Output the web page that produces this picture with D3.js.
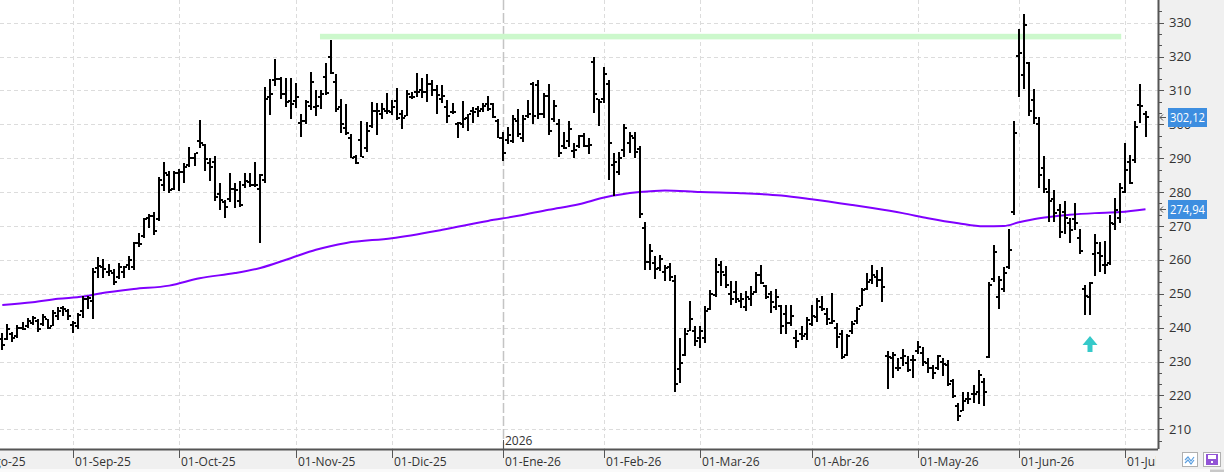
<!DOCTYPE html>
<html>
<head>
<meta charset="utf-8">
<script src="https://cdn.jsdelivr.net/npm/d3@7"></script>
<style>
  body { margin: 0; background: #fff; }
  svg { display: block; font-family: "Open Sans", sans-serif; }
</style>
</head>
<body>
<script>

// data

const holidays = ["2025-09-01", "2025-11-27", "2025-12-25", "2026-01-01", "2026-01-19",
                  "2026-02-16", "2026-04-03", "2026-05-25", "2026-06-19", "2026-07-03"];
const firstDay = "2025-08-01";
const lastDay = "2026-07-08";
const dataStart = "2025-08-12";

const opens = [
  236.7, 236.6, 238.0, 237.5, 240.0, 240.5, 241.5, 242.0, 241.0, 242.5,
  240.5, 243.5, 245.8, 245.0, 240.8, 240.5, 245.0, 248.5, 248.0, 257.5,
  258.0, 256.5, 256.0, 255.0, 256.5, 258.5, 258.0, 265.0, 267.0, 272.5,
  273.0, 272.0, 282.0, 285.0, 281.0, 285.5, 286.0, 288.0, 290.0, 295.0,
  294.0, 288.5, 289.0, 279.5, 277.0, 278.0, 281.0, 277.5, 282.0, 283.0,
  282.0, 281.0, 283.5, 308.0, 313.0, 313.5, 309.0, 307.0, 307.0, 300.5,
  301.0, 305.5, 305.0, 308.0, 314.0, 320.0, 312.5, 305.0, 299.0, 296.0,
  290.5, 295.5, 293.0, 299.5, 304.0, 303.0, 304.0, 303.5, 307.0, 303.0,
  302.5, 308.0, 309.5, 310.0, 309.5, 312.0, 310.0, 307.5, 305.0, 303.5,
  300.0, 300.0, 302.0, 304.0, 304.5, 304.5, 306.0, 306.0, 301.0, 296.0,
  295.5, 295.0, 301.0, 296.0, 302.5, 312.0, 311.5, 303.0, 308.5, 301.5,
  300.0, 293.5, 295.0, 292.0, 293.5, 296.6, 293.7, 318.5, 307.5, 307.5,
  312.0, 288.0, 286.0, 292.5, 294.5, 296.0, 292.8, 269.5, 259.5, 259.0,
  257.5, 256.5, 258.0, 253.7, 227.9, 232.0, 239.0, 239.0, 237.0, 237.0,
  245.5, 249.5, 258.5, 255.5, 250.0, 250.5, 248.0, 246.0, 248.5, 250.5,
  255.5, 252.2, 250.0, 246.0, 246.5, 244.0, 241.5, 237.0, 238.0, 238.0,
  241.0, 243.0, 246.0, 244.0, 241.5, 240.0, 238.0, 232.0, 239.0, 242.0,
  246.5, 251.5, 254.0, 255.0, 254.0, 231.5, 231.0, 228.0, 231.0, 229.5,
  230.5, 233.0, 232.5, 229.5, 228.0, 228.0, 230.0, 229.0, 224.2, 217.0,
  215.5, 219.0, 220.5, 221.0, 224.0, 231.4, 254.5, 249.0, 251.5, 258.0,
  274.0, 320.2, 314.7, 318.0, 307.3, 300.1, 287.0, 280.0, 278.0, 274.7,
  274.0, 271.0, 272.0, 266.4, 251.4, 249.0, 261.7, 262.0, 258.6, 259.0,
  270.5, 272.4, 280.0, 288.8, 289.4, 305.7, 303.0
];

const highs = [
  238.3, 241.2, 238.7, 240.9, 241.7, 242.9, 243.4, 242.7, 243.9, 242.7,
  245.3, 246.1, 246.3, 245.5, 241.9, 244.3, 249.4, 249.2, 257.6, 260.8,
  260.2, 258.8, 257.3, 259.1, 258.1, 261.2, 265.4, 267.9, 272.5, 273.6,
  274.0, 284.6, 288.8, 286.2, 286.3, 286.7, 288.5, 293.2, 291.6, 301.3,
  294.2, 290.2, 290.7, 282.6, 277.7, 285.5, 282.6, 283.4, 285.5, 285.5,
  289.0, 285.3, 311.1, 313.5, 319.4, 314.0, 313.8, 313.8, 312.2, 303.2,
  307.3, 315.5, 310.1, 310.1, 318.1, 325.0, 315.0, 307.6, 306.0, 297.1,
  291.1, 301.1, 300.8, 306.7, 306.4, 306.4, 309.3, 307.1, 310.6, 304.2,
  310.2, 309.6, 315.3, 313.8, 315.0, 313.2, 311.5, 311.6, 307.3, 306.2,
  300.8, 306.9, 303.2, 305.0, 305.5, 306.2, 308.3, 306.2, 301.7, 297.8,
  299.3, 302.7, 304.4, 302.7, 307.1, 312.5, 313.0, 309.3, 311.8, 307.3,
  301.7, 297.6, 300.9, 294.4, 296.8, 297.3, 295.9, 319.9, 307.6, 316.8,
  313.0, 291.4, 291.9, 300.1, 297.8, 297.6, 293.6, 271.3, 264.8, 261.0,
  261.3, 258.6, 259.1, 255.4, 236.8, 239.9, 247.8, 240.4, 240.4, 246.3,
  251.2, 260.7, 259.6, 258.1, 253.7, 253.7, 250.2, 250.7, 252.4, 256.4,
  258.6, 252.5, 250.7, 251.4, 246.8, 246.6, 246.8, 239.4, 240.4, 243.0,
  246.6, 248.8, 249.2, 245.8, 250.2, 241.4, 239.4, 238.2, 241.9, 246.1,
  251.7, 256.0, 258.6, 257.1, 257.9, 233.0, 232.8, 230.9, 233.7, 231.6,
  231.8, 236.0, 234.3, 231.1, 229.1, 231.9, 231.1, 230.6, 224.7, 217.8,
  221.0, 220.9, 223.2, 227.6, 225.2, 253.6, 264.4, 255.1, 257.8, 269.2,
  301.0, 328.1, 332.6, 318.3, 310.5, 302.3, 290.6, 283.9, 280.6, 276.4,
  277.4, 272.3, 276.9, 269.2, 252.7, 253.5, 267.7, 265.2, 265.7, 273.3,
  278.2, 282.8, 294.5, 291.0, 301.0, 311.9, 303.9
];

const lows = [
  233.3, 236.3, 235.7, 237.0, 239.4, 239.9, 240.7, 238.7, 240.6, 239.5,
  240.4, 242.2, 243.4, 242.4, 238.5, 239.6, 242.9, 245.5, 242.6, 254.6,
  254.6, 255.1, 252.7, 254.4, 254.6, 257.1, 257.1, 263.7, 266.4, 269.4,
  267.4, 271.4, 280.2, 279.7, 280.5, 280.2, 282.8, 287.5, 287.8, 293.1,
  286.3, 283.3, 277.5, 274.6, 272.5, 277.2, 275.4, 275.5, 281.1, 281.6,
  281.6, 265.1, 282.6, 302.7, 311.4, 307.6, 305.0, 301.6, 304.7, 296.2,
  300.0, 304.2, 302.5, 304.4, 308.6, 314.8, 303.7, 297.5, 296.8, 290.0,
  288.2, 290.4, 291.9, 298.8, 296.8, 301.7, 303.2, 302.7, 301.4, 298.6,
  302.5, 307.5, 308.1, 307.9, 306.7, 308.3, 303.0, 306.4, 300.5, 303.0,
  295.9, 299.0, 298.1, 300.5, 302.2, 303.7, 304.0, 302.0, 295.9, 289.3,
  294.2, 294.6, 296.4, 294.9, 302.0, 300.1, 301.7, 302.0, 296.8, 300.8,
  290.3, 292.6, 293.4, 290.0, 292.9, 293.2, 291.3, 303.4, 299.5, 306.4,
  283.6, 279.0, 285.1, 290.5, 291.5, 290.2, 272.3, 257.1, 257.0, 254.4,
  256.6, 253.7, 253.9, 221.0, 223.7, 231.6, 238.9, 234.5, 234.0, 235.5,
  245.3, 249.0, 252.2, 251.6, 246.6, 247.3, 245.8, 244.8, 246.3, 250.2,
  252.9, 248.5, 244.3, 245.1, 238.2, 238.2, 240.4, 234.0, 236.5, 236.3,
  240.4, 241.6, 244.8, 240.9, 241.2, 234.0, 230.8, 231.7, 238.0, 241.2,
  246.3, 251.0, 253.0, 252.0, 247.5, 222.0, 225.2, 227.1, 228.6, 227.0,
  225.2, 232.1, 228.6, 226.7, 224.7, 227.4, 225.7, 222.7, 219.3, 212.4,
  215.4, 217.6, 217.8, 217.6, 216.9, 231.1, 253.4, 245.5, 250.4, 257.3,
  273.3, 308.0, 310.3, 302.5, 300.1, 281.1, 279.6, 271.3, 271.3, 266.6,
  267.7, 264.9, 268.7, 261.8, 243.6, 243.8, 255.1, 256.3, 255.9, 258.4,
  268.9, 271.0, 279.6, 282.3, 288.7, 300.5, 296.2
];

const closes = [
  235.0, 239.5, 237.0, 240.0, 239.6, 242.0, 242.8, 239.5, 243.0, 239.8,
  244.2, 244.8, 245.5, 243.3, 241.3, 243.8, 248.5, 248.8, 256.5, 258.2,
  257.3, 256.8, 253.5, 258.0, 258.0, 260.0, 265.0, 264.8, 272.0, 272.9,
  268.6, 283.5, 285.5, 280.5, 285.5, 286.0, 287.5, 290.2, 291.5, 294.5,
  289.8, 287.5, 278.5, 277.8, 275.5, 281.0, 280.5, 276.3, 283.2, 282.0,
  282.0, 285.0, 307.5, 309.0, 313.5, 309.0, 306.5, 306.0, 308.0, 301.0,
  306.5, 312.5, 305.5, 309.0, 309.2, 315.2, 304.5, 300.0, 297.5, 290.2,
  288.5, 290.5, 298.0, 304.0, 304.0, 304.5, 303.8, 305.0, 302.0, 302.0,
  309.0, 308.0, 309.5, 309.6, 312.0, 310.0, 308.7, 308.5, 302.5, 303.5,
  300.5, 301.5, 303.0, 303.5, 304.0, 305.5, 304.5, 302.3, 296.0, 291.5,
  297.0, 301.5, 297.2, 301.7, 303.0, 302.5, 303.0, 308.5, 298.0, 305.5,
  291.5, 293.0, 298.7, 292.5, 296.5, 293.7, 294.0, 309.0, 306.5, 314.8,
  294.5, 289.0, 290.0, 298.8, 296.5, 291.7, 273.5, 259.5, 262.6, 257.4,
  260.4, 257.5, 255.0, 223.5, 229.6, 238.0, 242.5, 236.0, 239.0, 245.0,
  250.0, 256.5, 256.5, 252.5, 248.5, 248.5, 248.5, 249.0, 250.0, 255.5,
  253.2, 249.0, 247.5, 249.0, 240.5, 241.5, 243.5, 236.0, 237.5, 242.2,
  243.5, 247.8, 245.5, 242.5, 242.0, 237.2, 231.2, 237.5, 241.0, 245.5,
  251.0, 253.5, 255.5, 254.0, 252.0, 231.2, 232.0, 228.0, 231.5, 227.5,
  230.5, 234.4, 230.0, 228.0, 226.5, 231.5, 229.3, 223.5, 219.8, 214.0,
  218.3, 218.8, 220.3, 226.0, 221.0, 252.6, 262.3, 254.0, 256.0, 262.8,
  297.5, 321.0, 329.4, 304.0, 301.8, 285.0, 281.0, 277.5, 273.8, 268.2,
  272.3, 268.9, 270.8, 262.5, 249.4, 253.2, 264.9, 261.0, 258.5, 271.0,
  274.6, 281.1, 286.5, 282.6, 299.3, 305.5, 302.12
];

// moving average, read at knots (bar index, value)
const maIndex = [0, 6, 11, 16, 19, 26, 33, 39, 46, 51, 57, 62, 68, 77, 87, 96, 102, 108, 114,
                 119, 126, 131, 138, 146, 154, 160, 168, 172, 178, 183, 189, 194, 198, 201,
                 205, 211, 216, 221, 226];
const maValue = [246.7, 247.5, 248.5, 249.2, 250.0, 251.4, 252.4, 254.6, 256.1, 257.6, 260.5,
                 263.0, 265.0, 266.4, 268.9, 271.5, 273.0, 274.8, 276.4, 278.4, 280.0, 280.5,
                 280.0, 279.7, 279.0, 277.9, 276.2, 275.3, 273.8, 272.3, 270.8, 269.9, 270.0,
                 271.1, 272.3, 273.3, 273.8, 274.1, 274.94];

const monthDates = ["2025-08-01", "2025-09-01", "2025-10-01", "2025-11-01", "2025-12-01", "2026-01-01",
                    "2026-02-01", "2026-03-01", "2026-04-01", "2026-05-01", "2026-06-01", "2026-07-01"];
const monthLabels = ["01-Ago-25", "01-Sep-25", "01-Oct-25", "01-Nov-25", "01-Dic-25", "01-Ene-26",
                     "01-Feb-26", "01-Mar-26", "01-Abr-26", "01-May-26", "01-Jun-26", "01-Jul-26"];
const yearLabel = "2026";
const yearDate = "2026-01-01";

const yTicks = [210, 220, 230, 240, 250, 260, 270, 280, 290, 300, 310, 320, 330];

const lastPrice = 302.12;
const lastMA = 274.94;

const resistanceLevel = 325.9;
const resistanceFrom = "2025-11-10";
const resistanceTo = "2026-06-30";

const signalDate = "2026-06-22";
const signalValue = 237.5;

// dimensions

const dms = {
    width: 1224,
    height: 472,
    plotRight: 1158,
    plotBottom: 449
};

// trading calendar

const fmt = d3.timeFormat("%Y-%m-%d");
const parse = d3.timeParse("%Y-%m-%d");
const tradingDays = d3.timeDay.range(parse(firstDay), d3.timeDay.offset(parse(lastDay), 1))
    .filter(d => d.getDay() % 6 !== 0)
    .map(fmt)
    .filter(s => !holidays.includes(s));
const dates = tradingDays.slice(tradingDays.indexOf(dataStart));

const bars = dates.map((d, i) => ({
    date: d, o: opens[i], h: highs[i], l: lows[i], c: closes[i]
}));

// scales

const xScale = d3.scalePoint()
    .domain(tradingDays)
    .range([-33.1, 1145.5]);

const yScale = d3.scaleLinear()
    .domain([210, 330])
    .range([429.3, 22.7]);

const firstTrading = s => tradingDays[d3.bisectLeft(tradingDays, s)];

// canvas

const svg = d3.select("body")
    .append("svg")
    .attr("width", dms.width)
    .attr("height", dms.height);

svg.append("rect")
    .attr("width", dms.width).attr("height", dms.height)
    .attr("fill", "#fff");

svg.append("rect")
    .attr("x", dms.plotRight).attr("y", 0)
    .attr("width", dms.width - dms.plotRight).attr("height", dms.plotBottom)
    .attr("fill", "#f0f0f0");

svg.append("rect")
    .attr("x", 0).attr("y", dms.plotBottom)
    .attr("width", dms.width).attr("height", dms.height - dms.plotBottom)
    .attr("fill", "#f0f0f0");

svg.append("rect")
    .attr("x", 0).attr("y", 469)
    .attr("width", dms.width).attr("height", 3)
    .attr("fill", "#fafafa");

svg.append("rect")
    .attr("x", 1210).attr("y", 469.5)
    .attr("width", 14).attr("height", 2.5)
    .attr("fill", "#c8c8c8");

svg.append("clipPath").attr("id", "plot")
    .append("rect")
    .attr("width", dms.plotRight).attr("height", dms.plotBottom);

const plot = svg.append("g").attr("clip-path", "url(#plot)");

// grid

plot.selectAll(".hgrid")
    .data(yTicks)
    .enter()
    .append("line")
    .attr("x1", 0).attr("x2", dms.plotRight)
    .attr("y1", d => Math.round(yScale(d)) + 0.5)
    .attr("y2", d => Math.round(yScale(d)) + 0.5)
    .attr("stroke", "#dcdcdc")
    .attr("stroke-dasharray", "4,3");

const monthTicks = monthDates.map((m, i) => ({
    label: monthLabels[i],
    x: Math.round(xScale(firstTrading(m))),
    year: m === yearDate
}));

plot.selectAll(".vgrid")
    .data(monthTicks)
    .enter()
    .append("line")
    .attr("x1", d => d.x + 0.5).attr("x2", d => d.x + 0.5)
    .attr("y1", 0).attr("y2", dms.plotBottom)
    .attr("stroke", d => d.year ? "#c4c4c4" : "#dcdcdc")
    .attr("stroke-width", d => d.year ? 1.5 : 1)
    .attr("stroke-dasharray", d => d.year ? "10,3" : "4,3");

// resistance

plot.append("rect")
    .attr("x", xScale(resistanceFrom) - 1)
    .attr("width", xScale(resistanceTo) - xScale(resistanceFrom) + 2)
    .attr("y", yScale(resistanceLevel) - 2.8)
    .attr("height", 5.6)
    .attr("fill", "#ccf8cc");

// moving average

const maLine = d3.line()
    .x(d => xScale(dates[d[0]]))
    .y(d => yScale(d[1]))
    .curve(d3.curveMonotoneX);

plot.append("path")
    .datum(maIndex.map((d, i) => [d, maValue[i]]))
    .attr("d", maLine)
    .attr("fill", "none")
    .attr("stroke", "#8000ff")
    .attr("stroke-width", 2);

// bars

const g = plot.append("g")
    .attr("stroke", "#000")
    .attr("shape-rendering", "crispEdges");

const bx = d => Math.round(xScale(d.date));

g.selectAll(".hl")
    .data(bars)
    .enter()
    .append("line")
    .attr("x1", bx).attr("x2", bx)
    .attr("y1", d => Math.round(yScale(d.h)))
    .attr("y2", d => Math.round(yScale(d.l)))
    .attr("stroke-width", 2);

g.selectAll(".op")
    .data(bars)
    .enter()
    .append("line")
    .attr("x1", d => bx(d) - 3).attr("x2", d => bx(d) - 1)
    .attr("y1", d => Math.round(yScale(d.o)))
    .attr("y2", d => Math.round(yScale(d.o)))
    .attr("stroke-width", 2);

g.selectAll(".cl")
    .data(bars)
    .enter()
    .append("line")
    .attr("x1", d => bx(d) + 1).attr("x2", d => bx(d) + 3)
    .attr("y1", d => Math.round(yScale(d.c)))
    .attr("y2", d => Math.round(yScale(d.c)))
    .attr("stroke-width", 2);

// signal arrow

const sx = Math.round(xScale(signalDate));
const sy = yScale(signalValue);
plot.append("path")
    .attr("d", `M${sx},${sy} L${sx + 7.5},${sy + 9} L${sx + 2.5},${sy + 9} L${sx + 2.5},${sy + 16}
                L${sx - 2.5},${sy + 16} L${sx - 2.5},${sy + 9} L${sx - 7.5},${sy + 9} Z`)
    .attr("fill", "#35c9c9");

// right axis

const axisColor = "#555";

svg.append("line")
    .attr("x1", dms.plotRight + 0.5).attr("x2", dms.plotRight + 0.5)
    .attr("y1", 0).attr("y2", dms.plotBottom)
    .attr("stroke", axisColor).attr("stroke-width", 2);

const minorTicks = d3.range(0, 39).map(k => 210 - 10 / 3 + k * 10 / 3);

svg.selectAll(".ytick")
    .data(minorTicks.filter(v => yScale(v) > 2 && yScale(v) < dms.plotBottom - 2))
    .enter()
    .append("line")
    .attr("x1", dms.plotRight + 1)
    .attr("x2", d => dms.plotRight + (Math.abs(d / 10 - Math.round(d / 10)) < 0.01 ? 6 : 4))
    .attr("y1", d => Math.round(yScale(d)) + 0.5)
    .attr("y2", d => Math.round(yScale(d)) + 0.5)
    .attr("stroke", axisColor);

// the 300 label sits under the last-price box, as in the original
svg.selectAll(".ylabel")
    .data(yTicks)
    .enter()
    .append("text")
    .attr("x", 1169)
    .attr("y", d => yScale(d))
    .attr("dy", "0.35em")
    .attr("font-size", 13)
    .attr("fill", "#333")
    .text(d => d);

// last value labels

const comma = v => d3.format(".2f")(v).replace(".", ",");

[lastPrice, lastMA].forEach(v => {
    const yy = Math.round(yScale(v));
    svg.append("rect")
        .attr("x", 1168).attr("y", yy - 9)
        .attr("width", 39).attr("height", 19)
        .attr("fill", "#3d8ee0");
    svg.append("text")
        .attr("x", 1170).attr("y", yy)
        .attr("dy", "0.36em")
        .attr("font-size", 12.5)
        .attr("textLength", 35)
        .attr("lengthAdjust", "spacingAndGlyphs")
        .attr("fill", "#fff")
        .text(comma(v));
    svg.append("path")
        .attr("d", `M1160,${yy + 0.5} H1166 M1160,${yy + 0.5} L1163,${yy - 2.5} M1160,${yy + 0.5} L1163,${yy + 3.5}`)
        .attr("stroke", "#555")
        .attr("fill", "none");
});

// bottom axis

svg.append("line")
    .attr("x1", 0).attr("x2", dms.plotRight)
    .attr("y1", dms.plotBottom + 0.5).attr("y2", dms.plotBottom + 0.5)
    .attr("stroke", axisColor).attr("stroke-width", 2);

svg.append("clipPath").attr("id", "xaxis")
    .append("rect")
    .attr("x", 0).attr("y", dms.plotBottom)
    .attr("width", dms.plotRight - 2).attr("height", dms.height - dms.plotBottom);

const xa = svg.append("g").attr("clip-path", "url(#xaxis)");

xa.selectAll(".xtick")
    .data(monthTicks)
    .enter()
    .append("line")
    .attr("x1", d => d.x + 0.5).attr("x2", d => d.x + 0.5)
    .attr("y1", dms.plotBottom).attr("y2", dms.plotBottom + 9)
    .attr("stroke", axisColor);

xa.selectAll(".xlabel")
    .data(monthTicks)
    .enter()
    .append("text")
    .attr("x", d => d.x + 2)
    .attr("y", 466)
    .attr("font-size", 12)
    .attr("fill", "#333")
    .text(d => d.label);

const yearX = monthTicks.find(d => d.year).x;
svg.append("line")
    .attr("x1", yearX + 0.5).attr("x2", yearX + 0.5)
    .attr("y1", 440).attr("y2", dms.plotBottom)
    .attr("stroke", axisColor);
svg.append("text")
    .attr("x", yearX + 2).attr("y", 445)
    .attr("font-size", 12)
    .attr("fill", "#333")
    .text(yearLabel);

// corner buttons

svg.append("rect")
    .attr("x", 1182.5).attr("y", 452.5)
    .attr("width", 15).attr("height", 14)
    .attr("fill", "#fff").attr("stroke", "#b0b0b0");
svg.append("path")
    .attr("d", "M1185,460 L1188,457 L1191,461 L1194,457 M1185,463 L1188,460 L1191,464 L1194,460")
    .attr("fill", "none").attr("stroke", "#5b9fe0").attr("stroke-width", 1.2);

svg.append("rect")
    .attr("x", 1203.5).attr("y", 452.5)
    .attr("width", 17).attr("height", 14)
    .attr("fill", "#fff").attr("stroke", "#b0b0b0");
svg.append("rect")
    .attr("x", 1206).attr("y", 454)
    .attr("width", 12).attr("height", 11)
    .attr("fill", "#9254d6");
svg.append("rect")
    .attr("x", 1208).attr("y", 455)
    .attr("width", 8).attr("height", 4)
    .attr("fill", "#fff");
svg.append("rect")
    .attr("x", 1211).attr("y", 461)
    .attr("width", 2).attr("height", 2)
    .attr("fill", "#fff");

</script>
</body>
</html>
